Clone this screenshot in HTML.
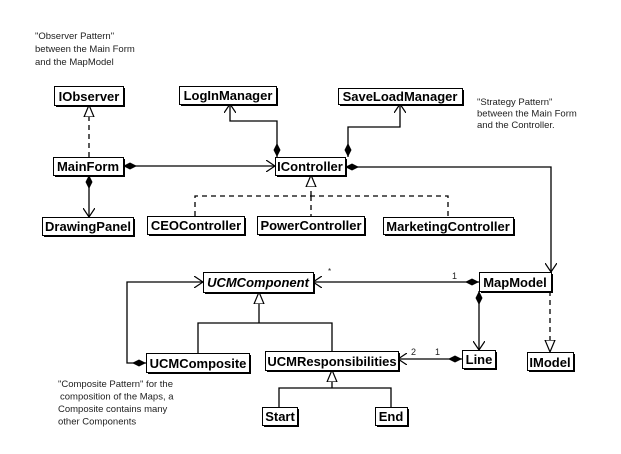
<!DOCTYPE html>
<html><head><meta charset="utf-8"><style>
html,body{margin:0;padding:0;background:#fff;}
svg{display:block;}
.b{font-family:"Liberation Sans",sans-serif;font-weight:bold;font-size:13px;fill:#000;}
.n{font-family:"Liberation Sans",sans-serif;font-size:9.5px;fill:#222;}
</style></head><body>
<svg width="621" height="454" viewBox="0 0 621 454" xmlns="http://www.w3.org/2000/svg">
<defs>
<marker id="open" markerWidth="10" markerHeight="12" refX="9" refY="6" orient="auto" markerUnits="userSpaceOnUse"><path d="M0,0 L9,6 L0,12" fill="none" stroke="#000" stroke-width="1.2"/></marker>
<marker id="tri" markerWidth="14" markerHeight="14" refX="12" refY="6" orient="auto" markerUnits="userSpaceOnUse"><path d="M0,1 L12,6 L0,11 Z" fill="#fff" stroke="#000" stroke-width="1.2"/></marker>
<marker id="dia" markerWidth="16" markerHeight="8" refX="0" refY="4" orient="auto" markerUnits="userSpaceOnUse"><path d="M0,4 L7,0.5 L14,4 L7,7.5 Z" fill="#000"/></marker>
</defs>
<g stroke="#000" stroke-width="1.3" fill="none">
<path d="M89,157 L89,105" stroke-dasharray="5,4" marker-end="url(#tri)"/>
<path d="M123,166 L275,166" marker-start="url(#dia)" marker-end="url(#open)"/>
<path d="M89,175 L89,217" marker-start="url(#dia)" marker-end="url(#open)"/>
<path d="M277,157 L277,121 L230,121 L230,104" marker-start="url(#dia)" marker-end="url(#open)"/>
<path d="M348,157 L348,127 L400,127 L400,104" marker-start="url(#dia)" marker-end="url(#open)"/>
<path d="M345,167 L551,167 L551,272" marker-start="url(#dia)" marker-end="url(#open)"/>
<path d="M311,196 L311,175" stroke-dasharray="5,4" marker-end="url(#tri)"/>
<path d="M195,216 L195,196 L448,196 L448,217 M311,196 L311,216" stroke-dasharray="5,4"/>
<path d="M479,282 L313,282" marker-start="url(#dia)" marker-end="url(#open)"/>
<path d="M146,363 L127,363 L127,282 L203,282" marker-start="url(#dia)" marker-end="url(#open)"/>
<path d="M259,323 L259,292" marker-end="url(#tri)"/>
<path d="M198,353 L198,323 L332,323 L332,351"/>
<path d="M479,291 L479,350" marker-start="url(#dia)" marker-end="url(#open)"/>
<path d="M550,291 L550,352" stroke-dasharray="5,4" marker-end="url(#tri)"/>
<path d="M462,359 L398,359" marker-start="url(#dia)" marker-end="url(#open)"/>
<path d="M332,388 L332,370" marker-end="url(#tri)"/>
<path d="M279,407 L279,388 L391,388 L391,407"/>
</g>
<g stroke="#000" stroke-width="1" fill="#fff">
<g fill="#000" stroke="none">
<rect x="56" y="88" width="69" height="19"/><rect x="181" y="88" width="97" height="18"/><rect x="340" y="90" width="124" height="16"/>
<rect x="55" y="159" width="70" height="18"/><rect x="277" y="159" width="70" height="18"/><rect x="44" y="219" width="91" height="18"/>
<rect x="149" y="218" width="97" height="18"/><rect x="259" y="218" width="107" height="18"/><rect x="385" y="219" width="130" height="17"/>
<rect x="205" y="274" width="110" height="20"/><rect x="481" y="274" width="72" height="19"/><rect x="148" y="355" width="103" height="19"/>
<rect x="267" y="353" width="133" height="19"/><rect x="464" y="352" width="33" height="18"/><rect x="529" y="354" width="46" height="18"/>
<rect x="264" y="409" width="35" height="18"/><rect x="377" y="409" width="32" height="18"/>
</g>
<rect x="54.5" y="86.5" width="69" height="19"/><rect x="179.5" y="86.5" width="97" height="18"/><rect x="338.5" y="88.5" width="124" height="16"/>
<rect x="53.5" y="157.5" width="70" height="18"/><rect x="275.5" y="157.5" width="70" height="18"/><rect x="42.5" y="217.5" width="91" height="18"/>
<rect x="147.5" y="216.5" width="97" height="18"/><rect x="257.5" y="216.5" width="107" height="18"/><rect x="383.5" y="217.5" width="130" height="17"/>
<rect x="203.5" y="272.5" width="110" height="20"/><rect x="479.5" y="272.5" width="72" height="19"/><rect x="146.5" y="353.5" width="103" height="19"/>
<rect x="265.5" y="351.5" width="133" height="19"/><rect x="462.5" y="350.5" width="33" height="18"/><rect x="527.5" y="352.5" width="46" height="18"/>
<rect x="262.5" y="407.5" width="35" height="18"/><rect x="375.5" y="407.5" width="32" height="18"/>
</g>
<g class="b" text-anchor="middle">
<text x="89" y="101">IObserver</text><text x="228" y="100">LogInManager</text><text x="400" y="101">SaveLoadManager</text>
<text x="88" y="171">MainForm</text><text x="310" y="171">IController</text><text x="88" y="231">DrawingPanel</text>
<text x="196" y="230">CEOController</text><text x="311" y="230">PowerController</text><text x="448" y="231">MarketingController</text>
<text x="258" y="287" font-style="italic">UCMComponent</text><text x="515" y="287">MapModel</text><text x="198" y="368">UCMComposite</text>
<text x="332" y="366">UCMResponsibilities</text><text x="479" y="364">Line</text><text x="550" y="367">IModel</text>
<text x="280" y="421">Start</text><text x="391" y="421">End</text>
</g>
<g class="n">
<text x="35" y="39">"Observer Pattern"</text><text x="35" y="52">between the Main Form</text><text x="35" y="65">and the MapModel</text>
<text x="477" y="105">"Strategy Pattern"</text><text x="477" y="116.5">between the Main Form</text><text x="477" y="128">and the Controller.</text>
<text x="58" y="387">"Composite Pattern" for the</text><text x="60" y="399.5">composition of the Maps, a</text><text x="58" y="412">Composite contains many</text><text x="58" y="424.5">other Components</text>
<text x="328" y="274" font-size="8">*</text><text x="452" y="279" font-size="9">1</text>
<text x="411" y="355" font-size="9">2</text><text x="435" y="355" font-size="9">1</text>
</g>
</svg>
</body></html>
